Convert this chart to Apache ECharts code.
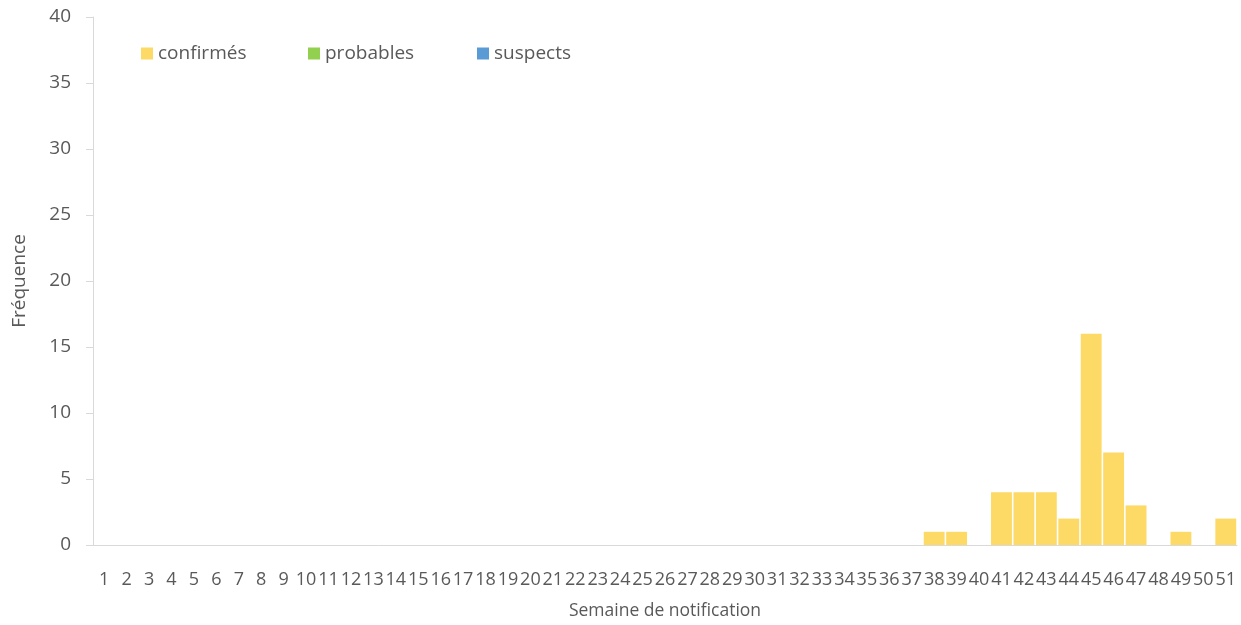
<!DOCTYPE html>
<html><head><meta charset="utf-8">
<script src="https://cdn.jsdelivr.net/npm/echarts@6/dist/echarts.min.js"></script>
<style>html,body{margin:0;padding:0;background:#fff}#c{width:1241px;height:625px}</style>
</head><body><div id="c"></div>
<script>
const weeks = Array.from({length:51},(_,i)=>String(i+1));
const confirmes = [0,0,0,0,0,0,0,0,0,0,0,0,0,0,0,0,0,0,0,0,0,0,0,0,0,0,0,0,0,0,0,0,0,0,0,0,0,1,1,0,4,4,4,2,16,7,3,0,1,0,2];
const probables = new Array(51).fill(0);
const suspects = new Array(51).fill(0);
const seriesNames = ['confirmés','probables','suspects'];
const colors = ['#FDD966','#92D050','#5B9BD5'];
const FONT = '"Open Sans", sans-serif';
const chart = echarts.init(document.getElementById('c'));
chart.setOption({
  animation:false,
  textStyle:{fontFamily:FONT,color:'#595959'},
  legend:[0,1,2].map(i=>({
    data:[seriesNames[i]], left:[141,308,477][i], top:44, padding:0, itemWidth:12, itemHeight:12,
    icon:'rect', textStyle:{fontFamily:FONT,fontSize:19,color:'#595959'}, itemGap:4
  })),
  grid:{left:93,right:4,top:17,bottom:80},
  xAxis:{type:'category',data:weeks,
    axisLine:{lineStyle:{color:'#D9D9D9',width:1}},axisTick:{show:false},
    axisLabel:{interval:0,fontFamily:FONT,fontSize:18,color:'#595959',margin:26},
    name:'Semaine de notification',nameLocation:'middle',nameGap:57,
    nameTextStyle:{fontFamily:FONT,fontSize:17.5,color:'#595959'}},
  yAxis:{type:'value',min:0,max:40,interval:5,
    axisLine:{show:true,lineStyle:{color:'#D9D9D9'}},
    axisTick:{show:true,length:7,lineStyle:{color:'#D9D9D9'}},
    splitLine:{show:false},
    axisLabel:{fontFamily:FONT,fontSize:19,color:'#595959',margin:22},
    name:'Fréquence',nameLocation:'middle',nameGap:64,
    nameTextStyle:{fontFamily:FONT,fontSize:19,color:'#595959'}},
  series:[confirmes,probables,suspects].map((d,i)=>({
    name:seriesNames[i],type:'bar',stack:'tot',data:d,barCategoryGap:'7%',
    itemStyle:{color:colors[i]}
  }))
});
</script></body></html>
